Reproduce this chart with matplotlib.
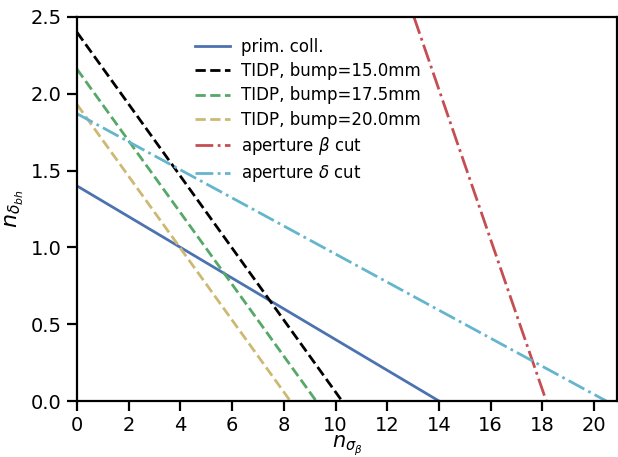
import matplotlib
matplotlib.use("Agg")
import matplotlib.pyplot as plt

# endpoints (x, y) of each straight line
prim_x = [0, 14.0]
prim_y = [1.40, 0.0]
tidp15_x = [0, 10.25]
tidp15_y = [2.40, 0.0]
tidp175_x = [0, 9.25]
tidp175_y = [2.16, 0.0]
tidp20_x = [0, 8.25]
tidp20_y = [1.93, 0.0]
apb_x = [13.03, 18.15]
apb_y = [2.5, 0.0]
apd_x = [0, 20.47]
apd_y = [1.87, 0.0]

labels = ["prim. coll.", "TIDP, bump=15.0mm", "TIDP, bump=17.5mm",
          "TIDP, bump=20.0mm", r"aperture $\beta$ cut", r"aperture $\delta$ cut"]

fig = plt.figure(figsize=(6.18, 4.57), dpi=100)
ax = fig.add_axes([0.1246, 0.1225, 0.9990 - 0.1246, 0.963 - 0.1225])

lw = 2.0
ax.plot(prim_x, prim_y, color="#4C72B0", lw=lw, ls="-", label=labels[0])
ax.plot(tidp15_x, tidp15_y, color="black", lw=lw, ls="--", label=labels[1])
ax.plot(tidp175_x, tidp175_y, color="#55A868", lw=lw, ls="--", label=labels[2])
ax.plot(tidp20_x, tidp20_y, color="#CCB974", lw=lw, ls="--", label=labels[3])
ax.plot(apb_x, apb_y, color="#C44E52", lw=lw, ls="-.", label=labels[4])
ax.plot(apd_x, apd_y, color="#64B5CD", lw=lw, ls="-.", label=labels[5])

ax.set_xlim(0, 20.9)
ax.set_ylim(0, 2.5)
ax.set_xticks(range(0, 21, 2))
ax.set_yticks([0.0, 0.5, 1.0, 1.5, 2.0, 2.5])
ax.tick_params(labelsize=14, width=1.6, length=7, pad=4)
for s in ax.spines.values():
    s.set_linewidth(1.6)

ax.set_xlabel(r"$n_{\sigma_\beta}$", fontsize=15, labelpad=-1)
ax.set_ylabel(r"$n_{\delta_{bh}}$", fontsize=16, labelpad=3)

ax.legend(loc="upper left", bbox_to_anchor=(0.19, 0.985), frameon=False,
          fontsize=12, handlelength=2.1, handletextpad=0.7, labelspacing=0.38)

fig.savefig("out.png", dpi=100)
